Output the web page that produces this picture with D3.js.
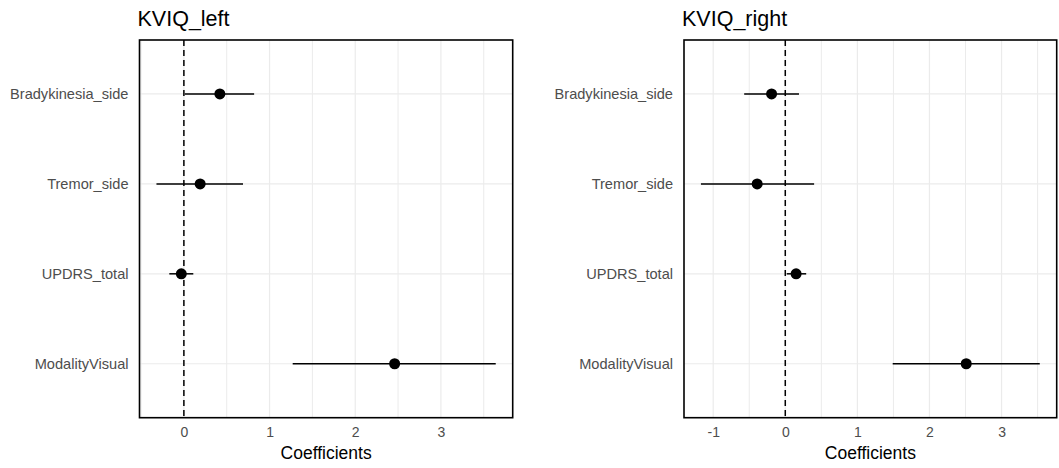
<!DOCTYPE html>
<html lang="en">
  <head>
    <meta charset="utf-8" />
    <script src="https://d3js.org/d3.v7.min.js"></script>
    <style>
      body { margin: 0; background: #fff; }
      svg { font-family: "Liberation Sans", Arial, sans-serif; display: block; }
    </style>
  </head>
  <body>
    <div id="content"></div>
    <script>
      // model terms, top to bottom
      const terms = ["Bradykinesia_side", "Tremor_side", "UPDRS_total", "ModalityVisual"];

      // KVIQ_left
      const leftEst = [0.42, 0.19, -0.03, 2.46];
      const leftLo = [0.01, -0.32, -0.17, 1.27];
      const leftHi = [0.82, 0.69, 0.11, 3.64];

      // KVIQ_right
      const rightEst = [-0.19, -0.39, 0.15, 2.51];
      const rightLo = [-0.57, -1.17, 0.02, 1.49];
      const rightHi = [0.19, 0.40, 0.29, 3.53];

      const leftTicks = [0, 1, 2, 3];
      const rightTicks = [-1, 0, 1, 2, 3];

      const width = 1059;
      const height = 468;

      const svg = d3
        .select("#content")
        .append("svg")
        .attr("width", width)
        .attr("height", height);

      const panel = (title, est, lo, hi, ticks, left, right) => {
        const top = 40;
        const bottom = 417.7;

        const rows = terms.map((t, i) => ({ term: t, est: est[i], lo: lo[i], hi: hi[i] }));

        // ggplot style 5% expansion on the continuous axis
        const xmin = d3.min(lo);
        const xmax = d3.max(hi);
        const pad = (xmax - xmin) * 0.05;
        const x = d3.scaleLinear().domain([xmin - pad, xmax + pad]).range([left, right]);

        // discrete axis: 0.6 unit expansion each side
        const y = d3
          .scalePoint()
          .domain(terms)
          .range([top, bottom])
          .padding(0.6);

        const g = svg.append("g");

        // minor grid
        const minor = d3.range(Math.ceil((xmin - pad) * 2) / 2, xmax + pad, 0.5).filter((v) => Math.abs(v % 1) > 0.1);
        g.selectAll(".minor")
          .data(minor)
          .enter()
          .append("line")
          .attr("x1", (d) => x(d))
          .attr("x2", (d) => x(d))
          .attr("y1", top)
          .attr("y2", bottom)
          .attr("stroke", "#ebebeb")
          .attr("stroke-width", 1);

        // major grid
        g.selectAll(".major")
          .data(ticks)
          .enter()
          .append("line")
          .attr("x1", (d) => x(d))
          .attr("x2", (d) => x(d))
          .attr("y1", top)
          .attr("y2", bottom)
          .attr("stroke", "#ebebeb")
          .attr("stroke-width", 1.2);

        g.selectAll(".hgrid")
          .data(terms)
          .enter()
          .append("line")
          .attr("x1", left)
          .attr("x2", right)
          .attr("y1", (d) => y(d))
          .attr("y2", (d) => y(d))
          .attr("stroke", "#ebebeb")
          .attr("stroke-width", 1.2);

        // zero reference line
        g.append("line")
          .attr("x1", x(0))
          .attr("x2", x(0))
          .attr("y1", top)
          .attr("y2", bottom)
          .attr("stroke", "#000")
          .attr("stroke-width", 1.5)
          .attr("stroke-dasharray", "6,4");

        // intervals
        g.selectAll(".ci")
          .data(rows)
          .enter()
          .append("line")
          .attr("x1", (d) => x(d.lo))
          .attr("x2", (d) => x(d.hi))
          .attr("y1", (d) => y(d.term))
          .attr("y2", (d) => y(d.term))
          .attr("stroke", "#000")
          .attr("stroke-width", 1.5);

        g.selectAll(".pt")
          .data(rows)
          .enter()
          .append("circle")
          .attr("cx", (d) => x(d.est))
          .attr("cy", (d) => y(d.term))
          .attr("r", 5.5)
          .attr("fill", "#000");

        // border
        g.append("rect")
          .attr("x", left)
          .attr("y", top)
          .attr("width", right - left)
          .attr("height", bottom - top)
          .attr("fill", "none")
          .attr("stroke", "#000")
          .attr("stroke-width", 1.6);

        // axes without tick marks
        const xAxis = g
          .append("g")
          .attr("transform", `translate(0,${bottom})`)
          .call(d3.axisBottom(x).tickValues(ticks).tickSize(0).tickPadding(9).tickFormat((d) => String(d)));
        xAxis.select(".domain").remove();
        xAxis.selectAll("text").attr("fill", "#4d4d4d").style("font-size", "14px");

        const yAxis = g
          .append("g")
          .attr("transform", `translate(${left},0)`)
          .call(d3.axisLeft(y).tickSize(0).tickPadding(11));
        yAxis.select(".domain").remove();
        yAxis.selectAll("text").attr("fill", "#4d4d4d").style("font-size", "14.6px");

        g.append("text")
          .attr("x", (left + right) / 2)
          .attr("y", 459)
          .attr("text-anchor", "middle")
          .style("font-size", "17.5px")
          .attr("fill", "#000")
          .text("Coefficients");

        g.append("text")
          .attr("x", left - 2)
          .attr("y", 26)
          .style("font-size", "21.5px")
          .attr("fill", "#000")
          .text(title);
      };

      panel("KVIQ_left", leftEst, leftLo, leftHi, leftTicks, 139.5, 512.7);
      panel("KVIQ_right", rightEst, rightLo, rightHi, rightTicks, 684, 1056.7);
    </script>
  </body>
</html>
